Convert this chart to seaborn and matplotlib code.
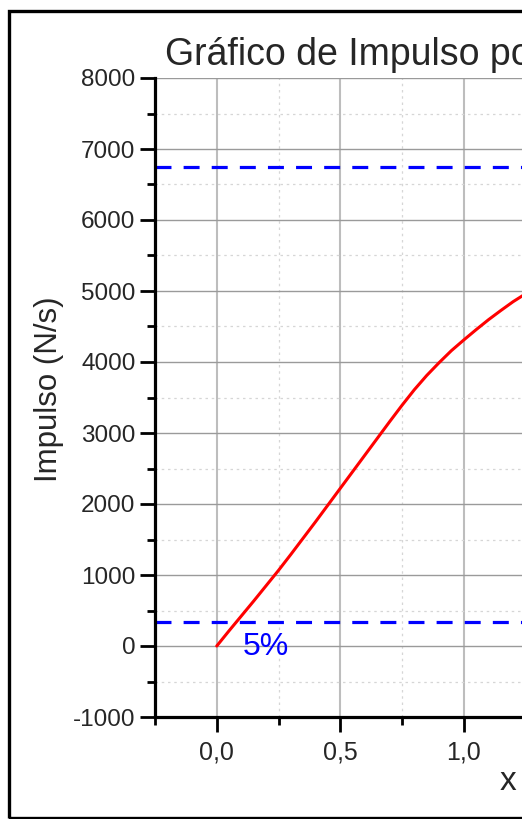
import matplotlib
matplotlib.use("Agg")
import matplotlib.pyplot as plt
from matplotlib.patches import Rectangle
from matplotlib.ticker import MultipleLocator, FuncFormatter
import numpy as np
import pandas as pd
import seaborn as sns

# Impulse curve (x, impulse in N/s)
x_vals = [0.0, 0.05, 0.1, 0.15, 0.2, 0.25, 0.3, 0.35, 0.4, 0.45, 0.5, 0.55, 0.6,
          0.65, 0.7, 0.75, 0.8, 0.85, 0.9, 0.95, 1.0, 1.05, 1.1, 1.15, 1.2, 1.25, 1.3]
impulso = [0, 215, 425, 635, 850, 1065, 1290, 1520, 1750, 1985, 2220, 2455, 2690,
           2925, 3160, 3390, 3610, 3810, 3990, 4160, 4310, 4455, 4595, 4725, 4850,
           4960, 5070]

# Reference levels: total impulse and its 5% fraction
impulso_total = 6750
fracao = 0.05
rotulo_fracao = "5%"

titulo = "Gráfico de Impulso por x"
rotulo_y = "Impulso (N/s)"
rotulo_x = "x"

df = pd.DataFrame({"x": x_vals, "Impulso": impulso})

sns.set_style("white")
plt.rcParams["font.family"] = ["Liberation Sans", "DejaVu Sans"]

W, H = 522, 819
fig = plt.figure(figsize=(W / 100, H / 100), dpi=100)

# axes placed in pixel terms; it runs past the right edge of the figure
left_px, right_px, top_px, bottom_px = 155, 896, 78, 717
ax = fig.add_axes([left_px / W, 1 - bottom_px / H,
                   (right_px - left_px) / W, (bottom_px - top_px) / H])

ax.set_xlim(-0.25, 2.75)
ax.set_ylim(-1000, 8000)

# grid: solid major, dotted minor
ax.xaxis.set_major_locator(MultipleLocator(0.5))
ax.xaxis.set_minor_locator(MultipleLocator(0.25))
ax.yaxis.set_major_locator(MultipleLocator(1000))
ax.yaxis.set_minor_locator(MultipleLocator(500))
ax.grid(which="major", axis="x", color="#bdbdbd", linewidth=1.5, zorder=0)
ax.grid(which="major", axis="y", color="#9a9a9a", linewidth=1.0, zorder=0)
ax.grid(which="minor", color="#d6d6d6", linewidth=0.9, linestyle=(0, (2, 3)), zorder=0)
ax.set_axisbelow(True)

sns.lineplot(data=df, x="x", y="Impulso", ax=ax, color="red", linewidth=2.2,
             zorder=3, legend=False)

ax.axhline(impulso_total, color="#0000ff", linewidth=2.3, linestyle=(0, (5, 3.8)), zorder=2)
ax.axhline(impulso_total * fracao, color="#0000ff", linewidth=2.3,
           linestyle=(0, (5, 3.8)), zorder=2)
ax.text(0.105, -20, rotulo_fracao, color="#0000ff", fontsize=23, ha="left", va="center")

# spines and ticks
for s in ["top", "right"]:
    ax.spines[s].set_visible(False)
for s in ["left", "bottom"]:
    ax.spines[s].set_color("black")
    ax.spines[s].set_linewidth(2.3)

ax.tick_params(which="major", direction="out", length=11, width=2.0, color="black",
               labelsize=17.5, pad=3, left=True, bottom=True)
ax.tick_params(which="minor", direction="out", length=6, width=2.0, color="black",
               left=True, bottom=True)
ax.tick_params(axis="x", which="major", labelsize=18, pad=6)

ax.xaxis.set_major_formatter(FuncFormatter(
    lambda v, p: "" if v < -0.01 else f"{v:.1f}".replace(".", ",")))
ax.yaxis.set_major_formatter(FuncFormatter(lambda v, p: f"{v:.0f}"))

ax.set_ylabel(rotulo_y, fontsize=22.5, va="center")
ax.yaxis.set_label_coords((49 - left_px) / (right_px - left_px),
                          (bottom_px - 389) / (bottom_px - top_px))
ax.set_xlabel(rotulo_x, fontsize=24, va="center")
ax.xaxis.set_label_coords((508 - left_px) / (right_px - left_px),
                          (bottom_px - 781) / (bottom_px - top_px))

fig.text(165 / W, 1 - 65 / H, titulo, fontsize=27, ha="left", va="baseline")

# frame around the whole figure
fig.add_artist(Rectangle((8.5 / W, 1 - 817.5 / H), 1.2, (817.5 - 10.5) / H,
                         transform=fig.transFigure, fill=False,
                         edgecolor="black", linewidth=2.4, clip_on=False))

fig.savefig("out.png", dpi=100)
